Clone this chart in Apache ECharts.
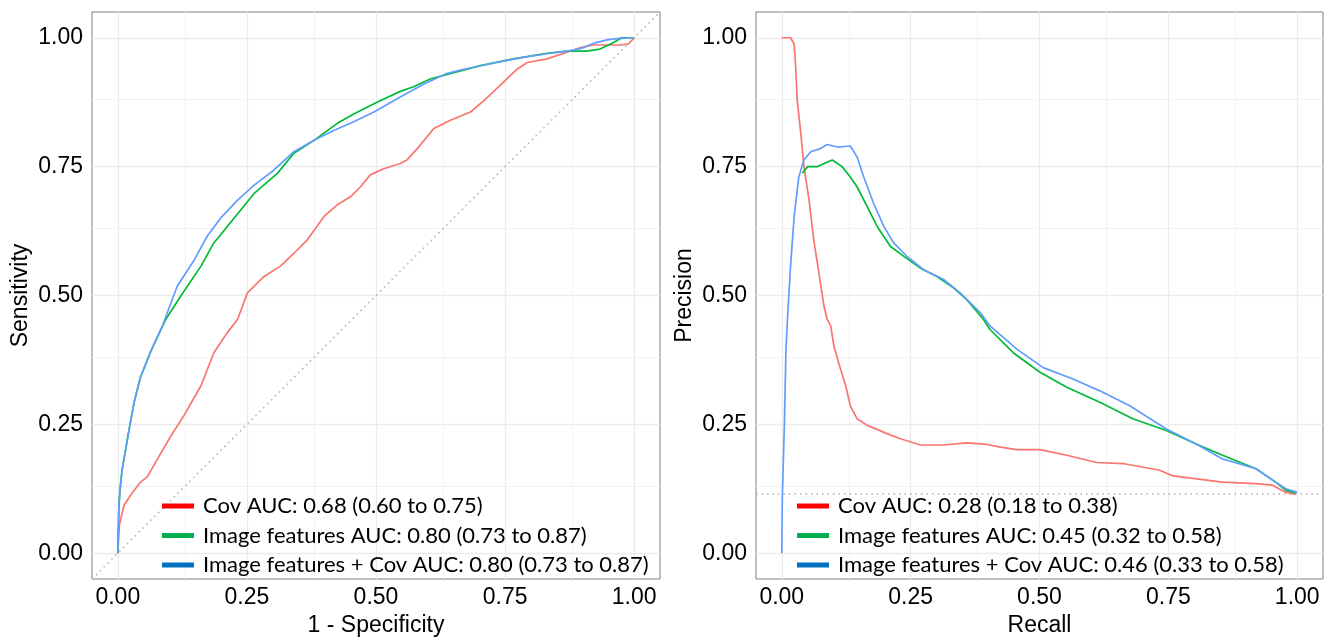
<!DOCTYPE html>
<html>
<head>
<meta charset="utf-8">
<script src="https://cdn.jsdelivr.net/npm/echarts@6/dist/echarts.min.js"></script>
<style>
  html, body { margin: 0; padding: 0; background: #fff; }
  #chart { width: 1333px; height: 642px; }
</style>
</head>
<body>
<div id="chart"></div>
<script>
// tick values shown on both panels
const majorTicks = [0, 0.25, 0.5, 0.75, 1];
const gridVals = [0, 0.125, 0.25, 0.375, 0.5, 0.625, 0.75, 0.875, 1];

// ROC curves: [1 - specificity, sensitivity]
const rocCov = [[0,0],[0.003,0.055],[0.012,0.093],[0.025,0.113],[0.044,0.138],[0.057,0.148],[0.077,0.183],[0.103,0.228],[0.128,0.267],[0.161,0.325],[0.186,0.389],[0.212,0.428],[0.232,0.454],[0.251,0.505],[0.283,0.537],[0.315,0.557],[0.341,0.582],[0.367,0.608],[0.399,0.653],[0.425,0.676],[0.451,0.692],[0.47,0.711],[0.489,0.734],[0.515,0.746],[0.547,0.756],[0.56,0.763],[0.58,0.785],[0.612,0.824],[0.644,0.84],[0.683,0.856],[0.709,0.878],[0.747,0.914],[0.773,0.939],[0.793,0.952],[0.831,0.959],[0.87,0.972],[0.896,0.981],[0.921,0.986],[0.973,0.986],[0.989,0.988],[1,1]];
const rocImg = [[0,0],[0.002,0.09],[0.004,0.12],[0.008,0.16],[0.012,0.183],[0.022,0.241],[0.032,0.295],[0.044,0.342],[0.064,0.392],[0.093,0.454],[0.122,0.499],[0.161,0.557],[0.186,0.602],[0.225,0.65],[0.264,0.698],[0.309,0.737],[0.341,0.776],[0.38,0.801],[0.425,0.834],[0.457,0.852],[0.502,0.875],[0.547,0.896],[0.573,0.905],[0.605,0.92],[0.638,0.929],[0.702,0.946],[0.766,0.959],[0.831,0.97],[0.87,0.974],[0.908,0.974],[0.934,0.978],[0.96,0.991],[0.976,1],[1,1]];
const rocImgCov = [[0,0],[0.002,0.09],[0.004,0.12],[0.008,0.16],[0.012,0.183],[0.022,0.241],[0.032,0.295],[0.044,0.342],[0.064,0.392],[0.086,0.44],[0.115,0.518],[0.148,0.569],[0.173,0.615],[0.199,0.65],[0.232,0.685],[0.264,0.714],[0.302,0.743],[0.341,0.779],[0.38,0.801],[0.418,0.82],[0.457,0.837],[0.496,0.856],[0.547,0.885],[0.592,0.91],[0.638,0.931],[0.67,0.939],[0.734,0.952],[0.779,0.961],[0.831,0.969],[0.87,0.974],[0.896,0.979],[0.921,0.989],[0.947,0.996],[0.973,0.999],[1,1]];
const diagonal = [[-0.05,-0.05],[1.05,1.05]];

// PR curves: [recall, precision]
const prCov = [[0,1],[0.017,1],[0.024,0.988],[0.027,0.943],[0.03,0.878],[0.037,0.814],[0.043,0.75],[0.053,0.685],[0.062,0.608],[0.072,0.544],[0.082,0.479],[0.088,0.454],[0.095,0.441],[0.101,0.402],[0.114,0.357],[0.124,0.325],[0.133,0.286],[0.146,0.261],[0.166,0.248],[0.204,0.232],[0.23,0.222],[0.269,0.21],[0.314,0.21],[0.359,0.214],[0.398,0.211],[0.424,0.206],[0.456,0.201],[0.501,0.201],[0.553,0.19],[0.611,0.176],[0.662,0.174],[0.733,0.161],[0.759,0.15],[0.855,0.138],[0.92,0.135],[0.952,0.132],[0.978,0.118],[0.997,0.114]];
const prImg = [[0.04,0.737],[0.05,0.75],[0.069,0.75],[0.082,0.756],[0.098,0.763],[0.117,0.75],[0.133,0.73],[0.146,0.711],[0.166,0.672],[0.185,0.634],[0.211,0.595],[0.237,0.576],[0.269,0.553],[0.301,0.537],[0.333,0.515],[0.359,0.492],[0.391,0.454],[0.404,0.434],[0.449,0.389],[0.501,0.351],[0.553,0.322],[0.617,0.293],[0.681,0.261],[0.746,0.238],[0.804,0.212],[0.855,0.19],[0.92,0.164],[0.958,0.138],[0.978,0.122],[0.997,0.117]];
const prImgCov = [[0,0],[0.001,0.106],[0.005,0.248],[0.008,0.389],[0.011,0.454],[0.017,0.557],[0.024,0.653],[0.033,0.73],[0.043,0.763],[0.056,0.779],[0.075,0.785],[0.088,0.793],[0.108,0.788],[0.133,0.79],[0.146,0.769],[0.159,0.73],[0.178,0.679],[0.198,0.634],[0.217,0.602],[0.243,0.576],[0.275,0.55],[0.314,0.531],[0.346,0.505],[0.385,0.467],[0.404,0.441],[0.456,0.396],[0.507,0.36],[0.565,0.338],[0.617,0.315],[0.675,0.286],[0.746,0.241],[0.804,0.212],[0.855,0.183],[0.92,0.164],[0.958,0.138],[0.978,0.125],[1,0.118]];
const baseline = [[-0.05,0.115],[1.05,0.115]];

const rocNames = ["Cov AUC: 0.68 (0.60 to 0.75)", "Image features AUC: 0.80 (0.73 to 0.87)", "Image features + Cov AUC: 0.80 (0.73 to 0.87)"];
const prNames = ["Cov AUC: 0.28 (0.18 to 0.38)", "Image features AUC: 0.45 (0.32 to 0.58)", "Image features + Cov AUC: 0.46 (0.33 to 0.58)"];

const lineColors = ["#F8766D", "#00BA38", "#619CFF"];
const keyColors = ["#FF0000", "#00B050", "#0070C0"];

const axisFont = "Liberation Sans, Arial, sans-serif";

function makeAxis(idx, name, isX) {
  return {
    type: "value",
    gridIndex: idx,
    min: -0.05,
    max: 1.05,
    name: name,
    nameLocation: "middle",
    nameGap: isX ? 35 : 60,
    nameTextStyle: { fontSize: 23, color: "#000", fontFamily: axisFont },
    axisLine: { show: false },
    axisTick: { show: true, length: 5, customValues: majorTicks, lineStyle: { color: "#333", width: 1 } },
    axisLabel: {
      customValues: majorTicks,
      fontSize: 23, color: "#000", fontFamily: axisFont,
      margin: isX ? 7 : 9,
      formatter: v => v.toFixed(2)
    },
    splitLine: { show: false }
  };
}

function gridLines() {
  let d = [];
  gridVals.forEach(v => {
    let major = majorTicks.indexOf(v) >= 0;
    let ls = { color: major ? "#ebebeb" : "#f2f2f2", width: major ? 1.3 : 1, type: "solid" };
    d.push({ xAxis: v, lineStyle: ls });
    d.push({ yAxis: v, lineStyle: ls });
  });
  return d;
}

function curve(name, data, color, idx) {
  return {
    name: name, type: "line", data: data,
    xAxisIndex: idx, yAxisIndex: idx,
    showSymbol: false, symbol: "none",
    lineStyle: { color: color, width: 1.7 },
    itemStyle: { color: color },
    z: 3
  };
}

function refLine(data, idx, withGrid) {
  let s = {
    type: "line", data: data,
    xAxisIndex: idx, yAxisIndex: idx,
    symbol: "none", silent: true,
    lineStyle: { color: "#b0b0b0", width: 1.5, type: [1.5, 4] },
    z: 2
  };
  if (withGrid) {
    s.markLine = {
      silent: true, symbol: ["none", "none"], label: { show: false },
      animation: false, z: 1, data: gridLines()
    };
  }
  return s;
}

function makeLegend(idx, names, left) {
  return {
    orient: "vertical",
    left: left, top: 495,
    padding: 0,
    itemGap: 7.5,
    itemWidth: 32, itemHeight: 5,
    icon: "rect",
    selectedMode: false,
    z: 10,
    textStyle: { fontSize: 22, color: "#000", fontFamily: "Lato, sans-serif", lineHeight: 22, padding: [0, 0, 0, 4] },
    data: names.map((n, i) => ({ name: n, itemStyle: { color: keyColors[i] } }))
  };
}

var myChart = echarts.init(document.getElementById("chart"));
myChart.setOption({
  animation: false,
  grid: [
    { left: 92, top: 12, width: 568, height: 567, show: true, borderColor: "#7f7f7f", borderWidth: 1, backgroundColor: "transparent" },
    { left: 756, top: 12, width: 567, height: 567, show: true, borderColor: "#7f7f7f", borderWidth: 1, backgroundColor: "transparent" }
  ],
  xAxis: [makeAxis(0, "1 - Specificity", true), makeAxis(1, "Recall", true)],
  yAxis: [makeAxis(0, "Sensitivity", false), makeAxis(1, "Precision", false)],
  legend: [makeLegend(0, rocNames, 162), makeLegend(1, prNames, 797)],
  series: [
    refLine(diagonal, 0, true),
    curve(rocNames[0], rocCov, lineColors[0], 0),
    curve(rocNames[1], rocImg, lineColors[1], 0),
    curve(rocNames[2], rocImgCov, lineColors[2], 0),
    refLine(baseline, 1, true),
    curve(prNames[0], prCov, lineColors[0], 1),
    curve(prNames[1], prImg, lineColors[1], 1),
    curve(prNames[2], prImgCov, lineColors[2], 1)
  ]
});
window.addEventListener("resize", function () {
  myChart.resize();
});
</script>
</body>
</html>
